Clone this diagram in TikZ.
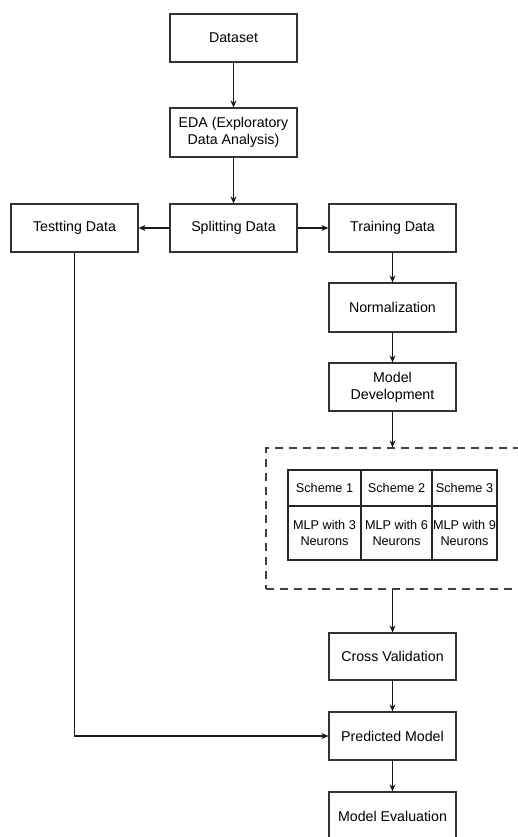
\documentclass[tikz,border=0pt]{standalone}
\usepackage{fontspec}
\setmainfont{Liberation Sans}
\usetikzlibrary{arrows.meta}

\begin{document}
\begin{tikzpicture}[
    x=1pt, y=-1pt, font=\fontsize{14.2}{16.7}\selectfont,
    box/.style={draw=black!80, line width=1.2pt, minimum width=127pt,
                minimum height=48pt, align=center, inner sep=1pt},
    cell/.style={draw=black!85, line width=1.2pt, align=center, inner sep=0pt,
                 font=\fontsize{12.7}{16.5}\selectfont},
    grp/.style={draw=black!75, line width=1.2pt, dash pattern=on 8pt off 6pt},
    sig/.style={-{Stealth[length=7pt, width=6pt]}, line width=1.2pt, black!90},
]

% ===================== Marco =====================
\clip (0,0) rectangle (518,837);
\fill[white] (0,0) rectangle (518,837);

% ===================== Datos y EDA =====================
\node[box] (data) at (233.5,38) {Dataset};
\node[box, minimum height=49pt] (eda) at (233.5,132.5)
      {EDA (Exploratory\\Data Analysis)};

% ===================== Particion =====================
\node[box] (split) at (233.5,228) {Splitting Data};
\node[box] (test) at (74.5,228) {Testting Data};
\node[box] (train) at (392.5,228) {Training Data};

% ===================== Preparacion del modelo =====================
\node[box, minimum height=49pt] (norm) at (392.5,307.5) {Normalization};
\node[box] (dev) at (392.5,387) {Model\\Development};

% ===================== Esquemas MLP =====================
\node[grp, minimum width=274pt, minimum height=141pt] (schemes) at (403,518.5) {};
\node[cell, minimum width=73pt, minimum height=36pt] (s1) at (324.5,488) {Scheme 1};
\node[cell, minimum width=71pt, minimum height=36pt] (s2) at (396.5,488) {Scheme 2};
\node[cell, minimum width=65pt, minimum height=36pt] (s3) at (464.5,488) {Scheme 3};
\node[cell, minimum width=73pt, minimum height=54pt] (m1) at (324.5,533) {MLP with 3\\Neurons};
\node[cell, minimum width=71pt, minimum height=54pt] (m2) at (396.5,533) {MLP with 6\\Neurons};
\node[cell, minimum width=65pt, minimum height=54pt] (m3) at (464.5,533) {MLP with 9\\Neurons};

% ===================== Validacion y evaluacion =====================
\node[box, minimum height=47pt] (cv) at (392.5,656.5) {Cross Validation};
\node[box] (pred) at (392.5,736) {Predicted Model};
\node[box] (eval) at (392.5,816) {Model Evaluation};

% ===================== Conectores =====================
\draw[sig] (data) -- (eda);
\draw[sig] (eda) -- (split);
\draw[sig] (split) -- (test);
\draw[sig] (split) -- (train);
\draw[sig] (train) -- (norm);
\draw[sig] (norm) -- (dev);
\draw[sig] (dev.south) -- (dev.south |- schemes.north);
\draw[sig] (cv.north |- schemes.south) -- (cv.north);
\draw[sig] (cv) -- (pred);
\draw[sig] (pred) -- (eval);
\draw[sig] (test.south) |- (pred.west);

\end{tikzpicture}
\end{document}
